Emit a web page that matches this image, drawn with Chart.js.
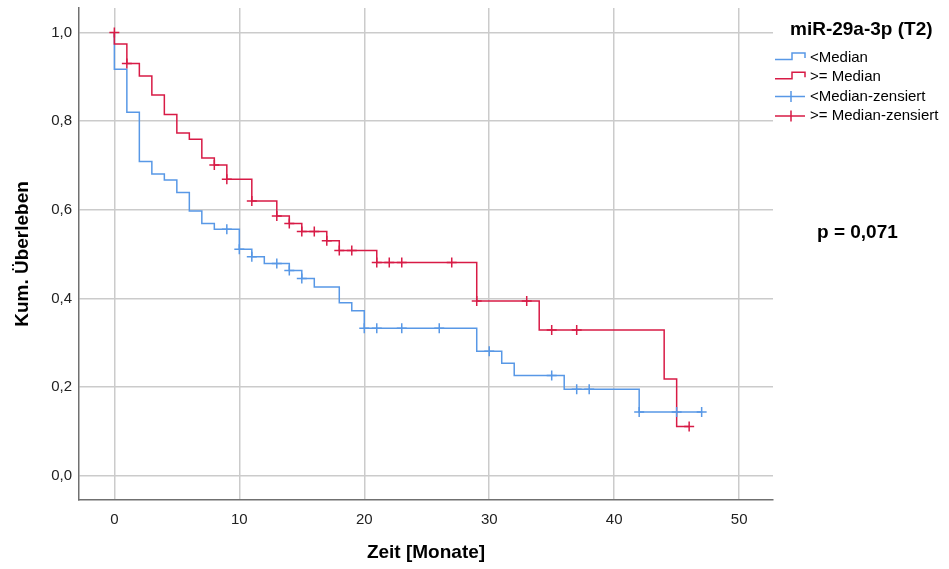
<!DOCTYPE html>
<html>
<head>
<meta charset="utf-8">
<script src="https://cdn.jsdelivr.net/npm/chart.js@4.4.1/dist/chart.umd.min.js"></script>
<style>
  body { margin: 0; background: #fff; }
  canvas { display: block; }
</style>
</head>
<body>
<canvas id="kmChart" width="949" height="569"></canvas>
<script>
const groupTitle = 'miR-29a-3p (T2)';
const pText = 'p = 0,071';
const xTitle = 'Zeit [Monate]';
const yTitle = 'Kum. Überleben';
const xTicks = [0, 10, 20, 30, 40, 50];
const yTicks = [0, 0.2, 0.4, 0.6, 0.8, 1.0];
const seriesLabels = ['<Median', '>= Median', '<Median-zensiert', '>= Median-zensiert'];

// <Median
const lowTime = [0, 0, 1, 2, 3, 4, 5, 6, 7, 8, 10, 11, 12, 14, 15, 16, 18, 19, 20, 29, 31, 32, 36, 42, 47];
const lowSurv = [1.0, 0.917, 0.820, 0.709, 0.681, 0.667, 0.639, 0.597, 0.569, 0.556, 0.511, 0.494, 0.479, 0.463, 0.445, 0.426, 0.390, 0.372, 0.333, 0.281, 0.254, 0.226, 0.195, 0.144, 0.144];
const lowCensTime = [9, 10, 11, 13, 14, 15, 20, 21, 23, 26, 30, 35, 37, 38, 42, 45, 47];
const lowCensSurv = [0.556, 0.511, 0.494, 0.479, 0.463, 0.445, 0.333, 0.333, 0.333, 0.333, 0.281, 0.226, 0.195, 0.195, 0.144, 0.144, 0.144];

// >= Median
const highTime = [0, 0, 1, 2, 3, 4, 5, 6, 7, 8, 9, 11, 13, 14, 15, 17, 18, 21, 29, 34, 44, 45, 46];
const highSurv = [1.0, 0.974, 0.930, 0.902, 0.859, 0.815, 0.773, 0.759, 0.717, 0.701, 0.669, 0.620, 0.586, 0.569, 0.551, 0.530, 0.508, 0.481, 0.394, 0.329, 0.218, 0.111, 0.111];
const highCensTime = [0, 1, 8, 9, 11, 13, 14, 15, 16, 17, 18, 19, 21, 22, 23, 27, 29, 33, 35, 37, 46];
const highCensSurv = [1.0, 0.930, 0.701, 0.669, 0.620, 0.586, 0.569, 0.551, 0.551, 0.530, 0.508, 0.508, 0.481, 0.481, 0.481, 0.481, 0.394, 0.394, 0.329, 0.329, 0.111];

const blue = 'rgb(88, 152, 230)';
const red = 'rgb(216, 27, 70)';
const fontFamily = 'Arial, "Liberation Sans", sans-serif';

function toPoints(xs, ys) {
    return xs.map((x, i) => ({ x: x, y: ys[i] }));
}

const legendPlugin = {
    id: 'kmLegend',
    afterDraw(chart) {
        const ctx = chart.ctx;
        const x0 = chart.chartArea.right;
        ctx.save();
        ctx.fillStyle = '#000';
        ctx.textBaseline = 'middle';
        ctx.font = 'bold 19px ' + fontFamily;
        ctx.fillText(groupTitle, x0 + 17, 30);

        ctx.font = '15px ' + fontFamily;
        ctx.lineWidth = 1.5;
        const colors = [blue, red, blue, red];
        seriesLabels.forEach((label, i) => {
            const y = 58 + i * 19.3;
            const ix = x0 + 2;
            ctx.strokeStyle = colors[i];
            ctx.beginPath();
            if (i < 2) {
                ctx.moveTo(ix, y + 1.5);
                ctx.lineTo(ix + 17, y + 1.5);
                ctx.lineTo(ix + 17, y - 5);
                ctx.lineTo(ix + 30, y - 5);
                ctx.lineTo(ix + 30, y);
            } else {
                ctx.moveTo(ix, y);
                ctx.lineTo(ix + 30, y);
                ctx.moveTo(ix + 16, y - 5.5);
                ctx.lineTo(ix + 16, y + 5.5);
            }
            ctx.stroke();
            ctx.fillStyle = '#000';
            ctx.fillText(label, x0 + 37, y);
        });

        ctx.font = 'bold 19px ' + fontFamily;
        ctx.fillText(pText, x0 + 44, 233);
        ctx.restore();
    }
};

const ctx = document.getElementById('kmChart').getContext('2d');
new Chart(ctx, {
    type: 'line',
    data: {
        datasets: [
            {
                label: seriesLabels[0],
                data: toPoints(lowTime, lowSurv),
                borderColor: blue,
                borderWidth: 1.5,
                stepped: 'before',
                pointRadius: 0,
                fill: false,
                order: 3
            },
            {
                label: seriesLabels[1],
                data: toPoints(highTime, highSurv),
                borderColor: red,
                borderWidth: 1.5,
                stepped: 'before',
                pointRadius: 0,
                fill: false,
                order: 2
            },
            {
                label: seriesLabels[2],
                data: toPoints(lowCensTime, lowCensSurv),
                showLine: false,
                pointStyle: 'cross',
                pointRadius: 5,
                pointBorderWidth: 1.5,
                borderColor: blue,
                order: 1
            },
            {
                label: seriesLabels[3],
                data: toPoints(highCensTime, highCensSurv),
                showLine: false,
                pointStyle: 'cross',
                pointRadius: 5,
                pointBorderWidth: 1.5,
                borderColor: red,
                order: 0
            }
        ]
    },
    options: {
        responsive: false,
        animation: false,
        layout: {
            padding: { top: 8, right: 176, bottom: 0, left: 0 }
        },
        plugins: {
            legend: { display: false },
            tooltip: { enabled: false }
        },
        scales: {
            x: {
                type: 'linear',
                min: -2.83,
                max: 52.71,
                afterBuildTicks: scale => { scale.ticks = xTicks.map(v => ({ value: v })); },
                afterFit: scale => {
                    scale.height = 69;
                    scale.paddingLeft = 0;
                    scale.paddingRight = 0;
                },
                grid: { color: '#cbcbcb', lineWidth: 1.5, drawTicks: false },
                border: { color: '#707070', width: 1.5 },
                ticks: {
                    padding: 11,
                    color: '#222',
                    font: { size: 15, family: fontFamily }
                },
                title: {
                    display: true,
                    text: xTitle,
                    color: '#000',
                    padding: { top: 0, bottom: 5 },
                    font: { size: 19, weight: 'bold', family: fontFamily }
                }
            },
            y: {
                min: -0.0548,
                max: 1.0553,
                afterBuildTicks: scale => { scale.ticks = yTicks.map(v => ({ value: v })); },
                afterFit: scale => {
                    scale.width = 79;
                    scale.paddingTop = 0;
                    scale.paddingBottom = 0;
                },
                grid: { color: '#cbcbcb', lineWidth: 1.5, drawTicks: false },
                border: { color: '#707070', width: 1.5 },
                ticks: {
                    padding: 7,
                    color: '#222',
                    font: { size: 15, family: fontFamily },
                    callback: v => v.toFixed(1).replace('.', ',')
                },
                title: {
                    display: true,
                    text: yTitle,
                    color: '#000',
                    padding: { top: 11, bottom: 0 },
                    font: { size: 19, weight: 'bold', family: fontFamily }
                }
            }
        }
    },
    plugins: [legendPlugin]
});
</script>
</body>
</html>
